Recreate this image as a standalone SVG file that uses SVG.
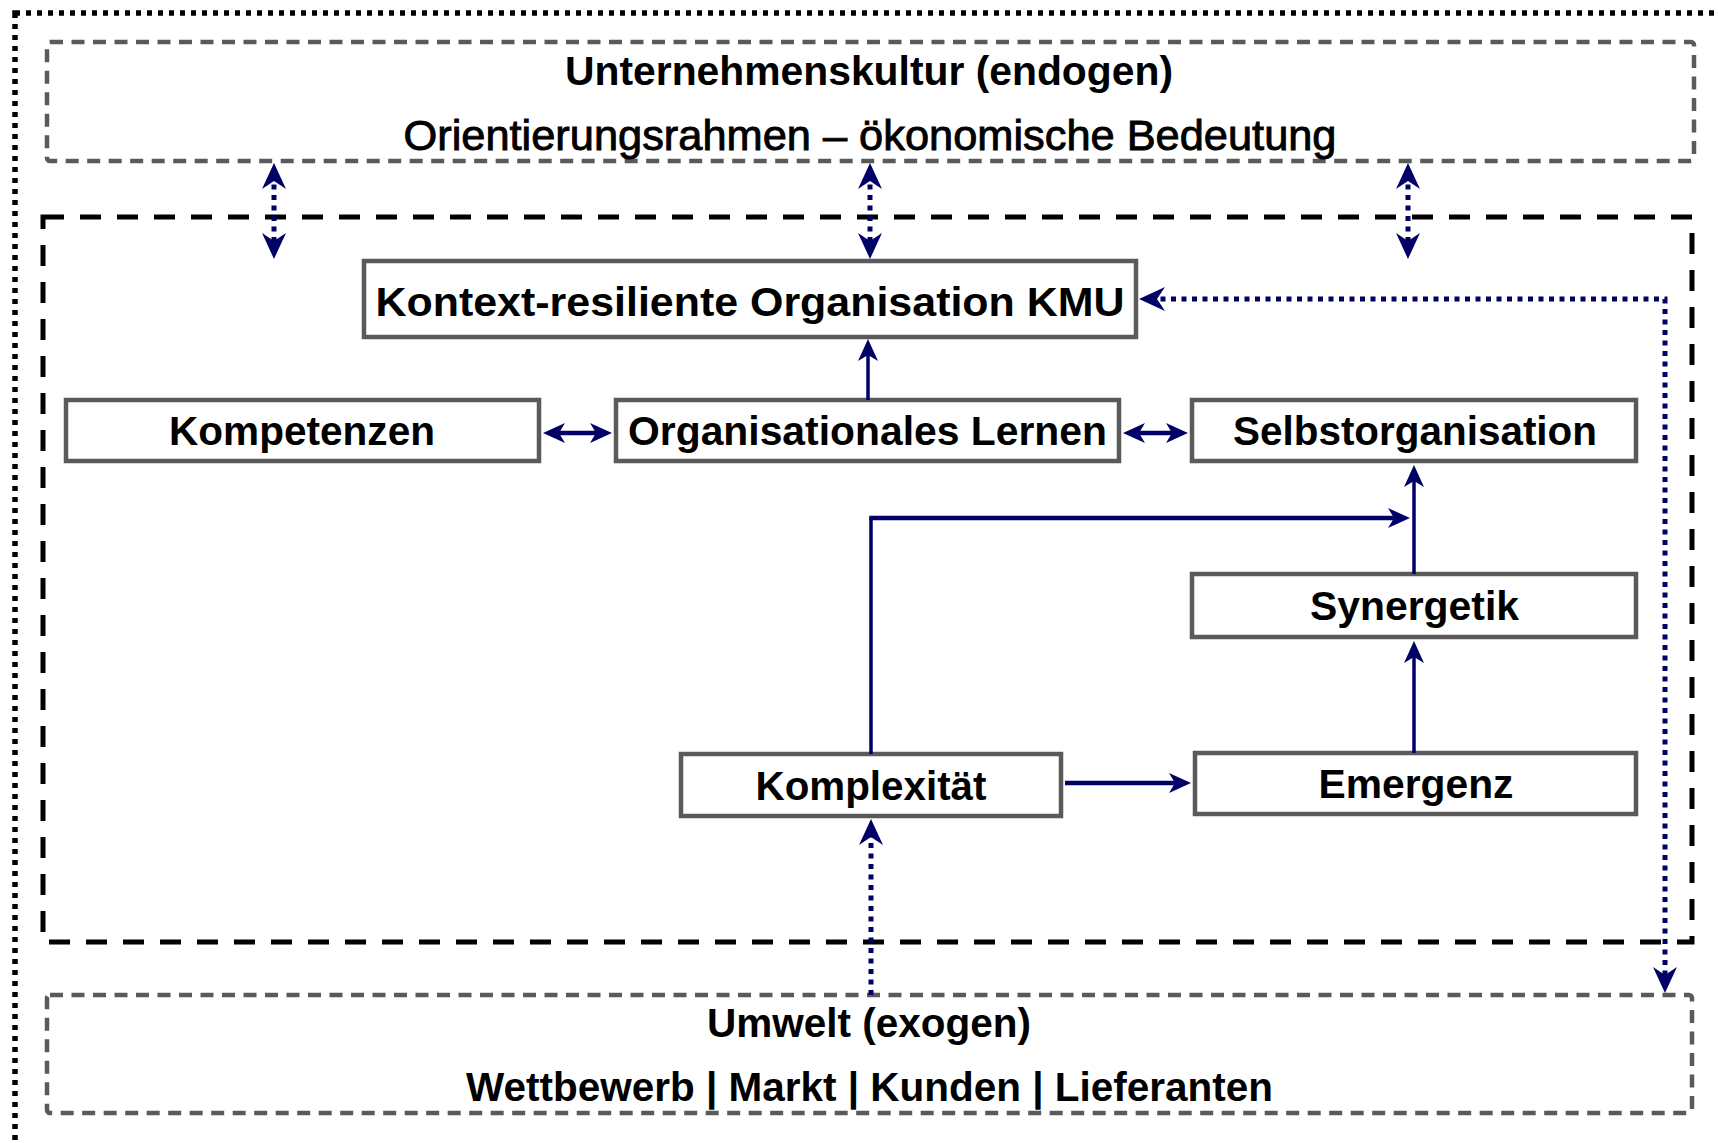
<svg xmlns="http://www.w3.org/2000/svg" width="1718" height="1143" viewBox="0 0 1718 1143">
  <style>
    .frame-dots { fill: none; stroke: #000; stroke-width: 5.5; stroke-dasharray: 5 6; }
    .frame-gray { fill: none; stroke: #5a5a5a; stroke-width: 4.5; stroke-dasharray: 13 8.5; }
    .frame-black { fill: none; stroke: #000; stroke-width: 5; stroke-dasharray: 21 16; }
    .box { fill: #fff; stroke: #5a5a5a; stroke-width: 4.5; }
    .lbl { font-family: "Liberation Sans", Arial, sans-serif; font-weight: bold; font-size: 41px; fill: #000; text-anchor: middle; }
    .sub { font-family: "Liberation Sans", Arial, sans-serif; font-weight: normal; font-size: 42px; fill: #000; stroke: #000; stroke-width: 0.9; text-anchor: middle; }
    .link { fill: none; stroke: #000066; stroke-width: 3.5; }
    .link-h { fill: none; stroke: #000066; stroke-width: 4.5; }
    .dot { fill: none; stroke: #000066; stroke-width: 5; stroke-dasharray: 5 5.5; }
  </style>
  <defs>
    <marker id="ah" viewBox="0 0 22 20" markerWidth="22" markerHeight="20" refX="12" refY="10" orient="auto-start-reverse" markerUnits="userSpaceOnUse">
      <path d="M0,0 L22,10 L0,20 L6,10 Z" fill="#000066"/>
    </marker>
    <marker id="ahd" viewBox="0 0 26 24" markerWidth="26" markerHeight="24" refX="15" refY="12" orient="auto-start-reverse" markerUnits="userSpaceOnUse">
      <path d="M0,0 L26,12 L0,24 L8,12 Z" fill="#000066"/>
    </marker>
  </defs>

  <rect width="1718" height="1143" fill="#fff"/>

  <!-- outer dotted frame (runs past the right and bottom edges) -->
  <rect class="frame-dots" x="15" y="13" width="1800" height="1200"/>

  <!-- Unternehmenskultur -->
  <g id="kultur">
    <rect class="frame-gray" x="47" y="42" width="1647" height="119" rx="3"/>
    <text class="lbl" x="869" y="85" textLength="608" lengthAdjust="spacingAndGlyphs">Unternehmenskultur (endogen)</text>
    <text class="sub" x="870" y="150" textLength="933" lengthAdjust="spacingAndGlyphs">Orientierungsrahmen – ökonomische Bedeutung</text>
  </g>

  <!-- inner organisation frame -->
  <g id="organisation">
    <rect class="frame-black" x="43" y="217" width="1649" height="725"/>
  </g>

  <!-- Umwelt -->
  <g id="umwelt">
    <rect class="frame-gray" x="47" y="995" width="1645" height="118" rx="3"/>
    <text class="lbl" x="869" y="1037" textLength="324" lengthAdjust="spacingAndGlyphs">Umwelt (exogen)</text>
    <text class="lbl" x="869.5" y="1101" textLength="807" lengthAdjust="spacingAndGlyphs">Wettbewerb | Markt | Kunden | Lieferanten</text>
  </g>

  <g id="kontext">
    <rect class="box" x="364" y="261" width="772" height="76"/>
    <text class="lbl" x="750" y="316" textLength="749" lengthAdjust="spacingAndGlyphs">Kontext-resiliente Organisation KMU</text>
  </g>

  <g id="kompetenzen">
    <rect class="box" x="66" y="400" width="473" height="61"/>
    <text class="lbl" x="302" y="445" textLength="266" lengthAdjust="spacingAndGlyphs">Kompetenzen</text>
  </g>

  <g id="lernen">
    <rect class="box" x="616" y="400" width="503" height="61"/>
    <text class="lbl" x="867.5" y="445" textLength="479" lengthAdjust="spacingAndGlyphs">Organisationales Lernen</text>
  </g>

  <g id="selbstorganisation">
    <rect class="box" x="1192" y="400" width="444" height="61"/>
    <text class="lbl" x="1415" y="445" textLength="364" lengthAdjust="spacingAndGlyphs">Selbstorganisation</text>
  </g>

  <g id="synergetik">
    <rect class="box" x="1192" y="574" width="444" height="63"/>
    <text class="lbl" x="1414.5" y="620" textLength="209" lengthAdjust="spacingAndGlyphs">Synergetik</text>
  </g>

  <g id="emergenz">
    <rect class="box" x="1195" y="753" width="441" height="61"/>
    <text class="lbl" x="1416" y="798" textLength="195" lengthAdjust="spacingAndGlyphs">Emergenz</text>
  </g>

  <g id="komplexitaet">
    <rect class="box" x="681" y="754" width="380" height="62"/>
    <text class="lbl" x="871" y="800" textLength="231" lengthAdjust="spacingAndGlyphs">Komplexität</text>
  </g>

  <g id="connectors">
    <!-- culture <-> organisation -->
    <path class="dot" d="M274,174 V248" marker-start="url(#ahd)" marker-end="url(#ahd)"/>
    <path class="dot" d="M870,174 V248" marker-start="url(#ahd)" marker-end="url(#ahd)"/>
    <path class="dot" d="M1408,174 V248" marker-start="url(#ahd)" marker-end="url(#ahd)"/>
    <!-- learning -> resilient organisation -->
    <path class="link" d="M868,400 V349" marker-end="url(#ah)"/>
    <!-- competences <-> learning <-> self-organisation -->
    <path class="link-h" d="M553,433 H602" marker-start="url(#ah)" marker-end="url(#ah)"/>
    <path class="link-h" d="M1133,433 H1178" marker-start="url(#ah)" marker-end="url(#ah)"/>
    <!-- complexity -> self-organisation branch -->
    <path class="link" d="M871,754 V518"/>
    <path class="link-h" d="M869.25,518 H1400" marker-end="url(#ah)"/>
    <!-- synergetics -> self-organisation -->
    <path class="link" d="M1414,574 V475" marker-end="url(#ah)"/>
    <!-- emergence -> synergetics -->
    <path class="link" d="M1414,753 V651" marker-end="url(#ah)"/>
    <!-- complexity -> emergence -->
    <path class="link-h" d="M1065,783 H1181" marker-end="url(#ah)"/>
    <!-- environment -> complexity -->
    <path class="dot" d="M871,995 V830" marker-end="url(#ahd)"/>
    <!-- resilient organisation <-> environment -->
    <path class="dot" d="M1150,299 H1665 V982" marker-start="url(#ahd)" marker-end="url(#ahd)"/>
  </g>
</svg>
